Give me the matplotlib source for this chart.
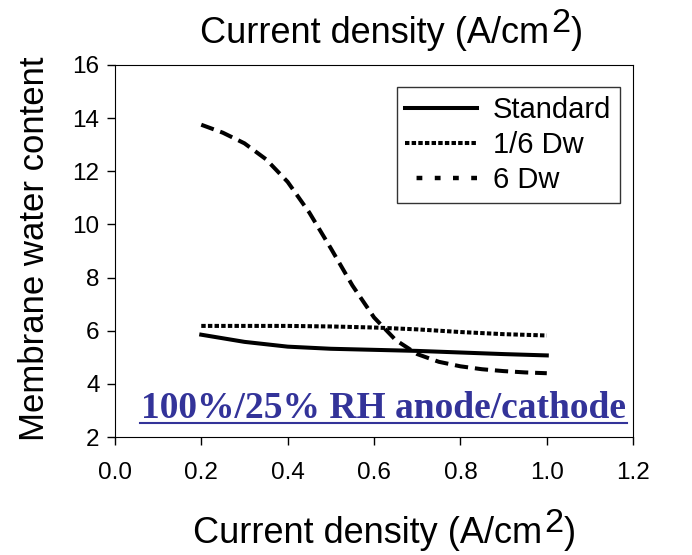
import numpy as np
import matplotlib.pyplot as plt
from matplotlib.lines import Line2D

# current density (A/cm2) and membrane water content
x_std = [0.2, 0.3, 0.4, 0.5, 0.6, 0.7, 0.8, 0.9, 1.0]
standard = [5.85, 5.58, 5.40, 5.32, 5.28, 5.24, 5.18, 5.12, 5.07]

x_low = [0.2, 0.3, 0.4, 0.5, 0.6, 0.7, 0.8, 0.9, 1.0]
dw_low = [6.18, 6.18, 6.18, 6.16, 6.12, 6.05, 5.95, 5.87, 5.82]

x_high = [0.2, 0.25, 0.3, 0.35, 0.4, 0.45, 0.5, 0.55, 0.6, 0.65,
          0.7, 0.75, 0.8, 0.85, 0.9, 0.95, 1.0]
dw_high = [13.75, 13.45, 13.05, 12.45, 11.6, 10.45, 9.1, 7.7, 6.5, 5.65,
           5.12, 4.83, 4.66, 4.55, 4.48, 4.43, 4.4]

series_names = ['Standard', '1/6 Dw', '6 Dw']
xticks = [0.0, 0.2, 0.4, 0.6, 0.8, 1.0, 1.2]
yticks = [2, 4, 6, 8, 10, 12, 14, 16]

plt.rcParams['font.family'] = ['Liberation Sans', 'DejaVu Sans']

W, H = 692, 555
fig = plt.figure(figsize=(W / 100, H / 100), dpi=100)
ax = fig.add_axes([0.166, 0.2126, 0.749, 0.6704])

ax.plot(x_std, standard, color='black', lw=2.9)
ax.plot(x_low, dw_low, color='black', lw=2.9, linestyle=(0, (1.1, 0.55)))
ax.plot(x_high, dw_high, color='black', lw=2.9, linestyle=(0, (3.3, 1.7)))

ax.set_xlim(0, 1.2)
ax.set_ylim(2, 16)
ax.set_xticks(xticks)
ax.set_xticklabels(['%.1f' % v for v in xticks])
ax.set_yticks(yticks)
ax.tick_params(labelsize=17.5, direction='out', length=6, width=1, pad=5)
ax.tick_params(axis='x', pad=12)

renderer = fig.canvas.get_renderer()


def label_with_sup(x0, base, size):
    # x0, base in pixels from top-left; "2" drawn full size and raised
    t = fig.text(x0 / W, 1 - base / H, 'Current density (A/cm', fontsize=size,
                 ha='left', va='baseline')
    x1 = t.get_window_extent(renderer).x1
    s = fig.text((x1 + 2) / W, 1 - (base - 11) / H, '2', fontsize=size * 0.95,
                 ha='left', va='baseline')
    x2 = s.get_window_extent(renderer).x1
    fig.text((x2 + 1) / W, 1 - base / H, ')', fontsize=size, ha='left', va='baseline')


label_with_sup(200, 43, 26)
label_with_sup(193, 543, 26)

fig.text(35 / W, 1 - 249 / H, 'Membrane water content', fontsize=25,
         rotation=90, ha='center', va='center')

handles = [
    Line2D([], [], color='black', lw=2.9),
    Line2D([], [], color='black', lw=2.9, linestyle=(0, (1.1, 0.55))),
    Line2D([], [], color='black', lw=3.2, linestyle=(1.5, (1.3, 2.8))),
]
leg = ax.legend(handles, series_names, loc='upper right', fontsize=21,
                frameon=True, fancybox=False, edgecolor='black',
                handlelength=2.45, handletextpad=0.55, borderpad=0.3,
                labelspacing=0.25, borderaxespad=0,
                bbox_to_anchor=(620 / W, 1 - 87 / H),
                bbox_transform=fig.transFigure)
leg.get_frame().set_linewidth(1)

ax.text(0.518, 0.05, '100%/25% RH anode/cathode', transform=ax.transAxes,
        ha='center', va='baseline', fontsize=27, fontweight='bold',
        family='Liberation Serif', color='#333399')
ax.plot([0.048, 0.988], [0.037, 0.037], transform=ax.transAxes,
        color='#333399', lw=1.5, clip_on=False)

fig.savefig('out.png', dpi=100)
